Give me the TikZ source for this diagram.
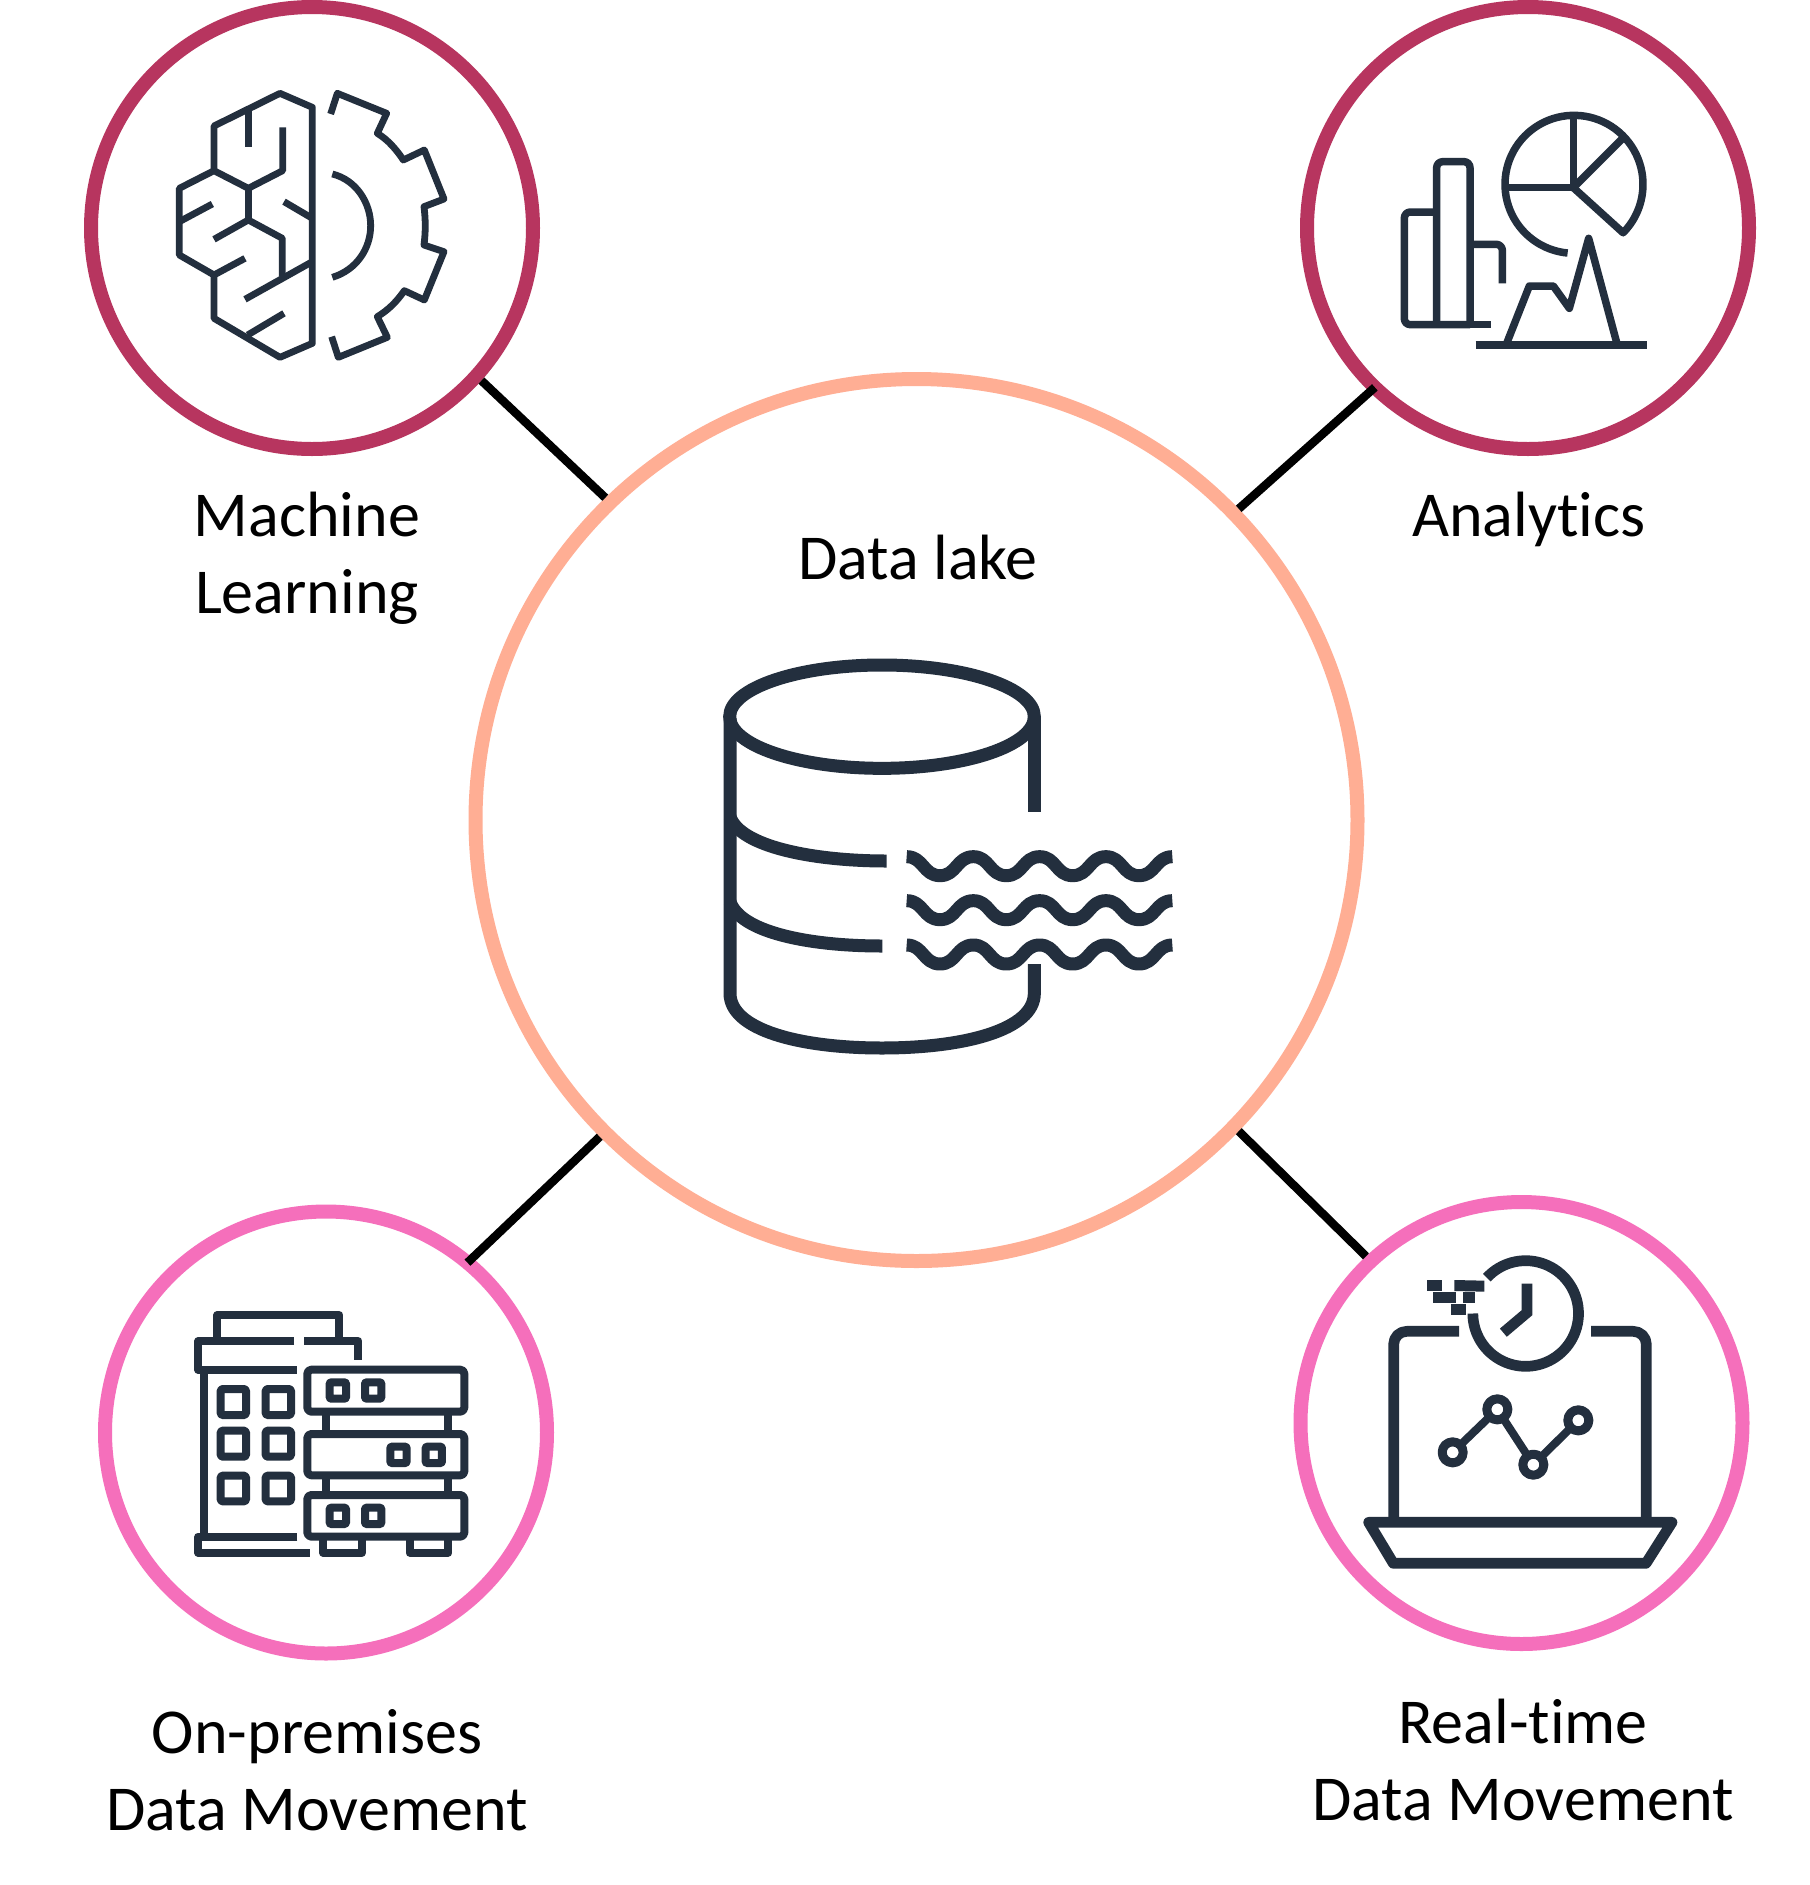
\documentclass[tikz,border=0pt]{standalone}
\usepackage{fontspec}
\setmainfont[Ligatures=CommonOff]{Carlito}
\definecolor{inkc}{HTML}{232F3E}
\definecolor{wine}{HTML}{B7355F}
\definecolor{pinkc}{HTML}{F56FBB}
\definecolor{peach}{HTML}{FFAE94}
\tikzset{
  iconat/.style 2 args={shift={(#1,#2)},x=0.33333pt,y=-0.33333pt},
  ink/.style={draw=inkc,line join=round},
  ring/.style={circle,draw=#1,line width=14pt,minimum size=442pt,inner sep=0pt,fill=white},
  bigring/.style={circle,draw=peach,line width=14pt,minimum size=882pt,inner sep=0pt,fill=white},
  link/.style={draw=black,line width=8.5pt},
  lab/.style={align=center,text=black,font=\fontsize{64}{77}\selectfont,inner sep=0pt}
}
\begin{document}
\begin{tikzpicture}[x=1pt,y=-1pt]
\useasboundingbox (0,0) rectangle (1810,1885);
\fill[white] (0,0) rectangle (1810,1885);
% rings
\node[bigring] (lake) at (916.5,820) {};
\node[ring=wine] (ml) at (312,228) {};
\node[ring=wine] (an) at (1528,228) {};
\node[ring=pinkc] (op) at (326,1432.5) {};
\node[ring=pinkc] (rt) at (1521.5,1423) {};
% connectors
\draw[link] (ml.-42.5) -- (lake.134.1);
\draw[link,shorten <=-7pt] (an.-134.7) -- (lake.44.4);
\draw[link,shorten <=-7pt] (op.50.5) -- (lake.225.1);
\draw[link] (rt.133.6) -- (lake.-44.6);
% labels
\node[lab] (t1) at (307,558.4) {Machine\\Learning};
\node[lab] (t2) at (1529,519.4) {Analytics};
\node[lab] (t3) at (918,558) {Data lake};
\node[lab] (t4) at (317,1770) {On-premises\\Data Movement};
\node[lab] (t5) at (1523,1760) {Real-time\\Data Movement};
% brain and gear
\begin{scope}[iconat={80}{0},ink,line width=6.8pt]
\draw (697,322) -- (600,280) -- (402,378) -- (402,512) -- (298,565) -- (298,765) -- (402,825) -- (402,955) -- (600,1072) -- (697,1030) -- cycle;
\draw (505,330) -- (505,440);
\draw (608,382) -- (608,512) -- (505,565) -- (402,512);
\draw (505,565) -- (505,660);
\draw (298,665) -- (397,612);
\draw (402,718) -- (505,660) -- (607,715) -- (607,830);
\draw (402,825) -- (495,775);
\draw (495,898) -- (697,785);
\draw (612,605) -- (697,655);
\draw (503,1005) -- (612,940);
\draw (752,342) -- (772,280) -- (920,340) -- (892,400) .. controls (925,420) and (950,450) .. (970,480) -- (1033,450) -- (1092,597) -- (1032,620) .. controls (1037,660) and (1037,695) .. (1032,735) -- (1092,755) -- (1033,900) -- (973,872) .. controls (950,905) and (925,930) .. (892,950) -- (922,1012) -- (775,1072) -- (755,1010);
\draw (757,522) .. controls (830,540) and (872,610) .. (872,677) .. controls (872,745) and (830,810) .. (757,832);
\end{scope}
% analytics
\begin{scope}[iconat={1300}{0},ink,line width=7.5pt]
\draw[rounded corners=6pt] (410,636) -- (313,636) -- (313,974) -- (510,974);
\draw (480,974) -- (572,974);
\draw[rounded corners=6pt] (410,974) -- (410,485) -- (510,485) -- (510,974);
\draw[rounded corners=6pt] (510,733) -- (607,733) -- (607,850);
\draw plot[domain=95.3:404.6,samples=80] ({822+207*cos(\x)},{553+207*sin(\x)}) -- (820,563);
\draw (617,563) -- (820,563) -- (820,344);
\draw (820,563) -- (968,415);
\draw (527,1035) -- (1042,1035);
\draw (618,1035) -- (688,858) -- (760,858) -- (808,925) -- (866,715) -- (952,1035);
\end{scope}
% data lake
\begin{scope}[iconat={700}{640},ink,line width=13pt]
\draw (546,230) ellipse [x radius=457,y radius=155];
\draw (90,235) -- (90,1060) .. controls (90,1170) and (300,1224) .. (546,1224) .. controls (792,1224) and (1003,1170) .. (1003,1060) -- (1003,972);
\draw (1003,235) -- (1003,517);
\draw (90,530) .. controls (120,620) and (340,663) .. (560,663);
\draw (90,785) .. controls (120,875) and (320,918) .. (547,918);
\foreach \yy in {0,132,265} {
  \begin{scope}[shift={(0,\yy)}]
  \draw (620,650) foreach \k in {0,...,3} { .. controls ({670+199*\k},650) and ({670+199*\k},707) .. ({720+199*\k},707) .. controls ({770+199*\k},707) and ({770+199*\k},650) .. ({820+199*\k},650) };
  \end{scope}
}
\end{scope}
% on-premises
\begin{scope}[iconat={90}{1200},ink,line width=8pt]
\draw (382,420) -- (382,345) -- (748,345) -- (748,420);
\draw (612,423) -- (325,423) -- (325,510) -- (622,510);
\draw (642,423) -- (805,423) -- (805,480);
\draw (343,510) -- (343,1010);
\draw (622,1010) -- (325,1010) -- (325,1058) -- (660,1058);
\foreach \a/\b in {392/468,527/603} \foreach \c/\d in {567/645,692/770,827/904}
  \draw[rounded corners=1.5pt] (\a,\c) rectangle (\b,\d);
\foreach \c/\d in {509/635,702/826,885/1010}
  \draw[rounded corners=4pt] (652,\c) rectangle (1123,\d);
\foreach \a in {709,1075} {
  \draw (\a,635) -- (\a,702);
  \draw (\a,826) -- (\a,885);
}
\draw (699,1010) -- (699,1058) -- (815,1058) -- (815,1010);
\draw (959,1010) -- (959,1058) -- (1075,1058) -- (1075,1010);
\foreach \a/\c in {719/547,825/547,901/740,1007/740,719/923,825/923}
  \draw[rounded corners=1pt] (\a,\c) rectangle ++(49,49);
\end{scope}
% real-time
\begin{scope}[iconat={1290}{1190},ink,line width=10.7pt]
\draw[rounded corners=13pt] (507,424) -- (311,424) -- (311,990);
\draw[rounded corners=13pt] (903,424) -- (1069,424) -- (1069,990);
\draw (236,997) -- (1146,997) -- (1068,1120) -- (310,1120) -- cycle;
\draw plot[domain=222.7:540,samples=80] ({707+158.5*cos(\x)},{370.5+158.5*sin(\x)});
\draw[line join=miter] (711,281) -- (711,368) -- (640,428);
\fill[inkc] (412,270) rectangle (455,303);
\fill[inkc] (493,270) -- (583,272) -- (583,305) -- (493,303) -- cycle;
\fill[inkc] (430,306) rectangle (499,339);
\fill[inkc] (520,306) rectangle (556,339);
\fill[inkc] (484,342) rectangle (529,375);
\draw[line width=8pt] (488,787) -- (622,658) -- (730,824) -- (865,691);
\foreach \a/\b in {488/787,622/658,730/824,865/691}
  \draw[line width=9pt,fill=white] (\a,\b) circle [radius=31.5];
\end{scope}
\end{tikzpicture}
\end{document}
